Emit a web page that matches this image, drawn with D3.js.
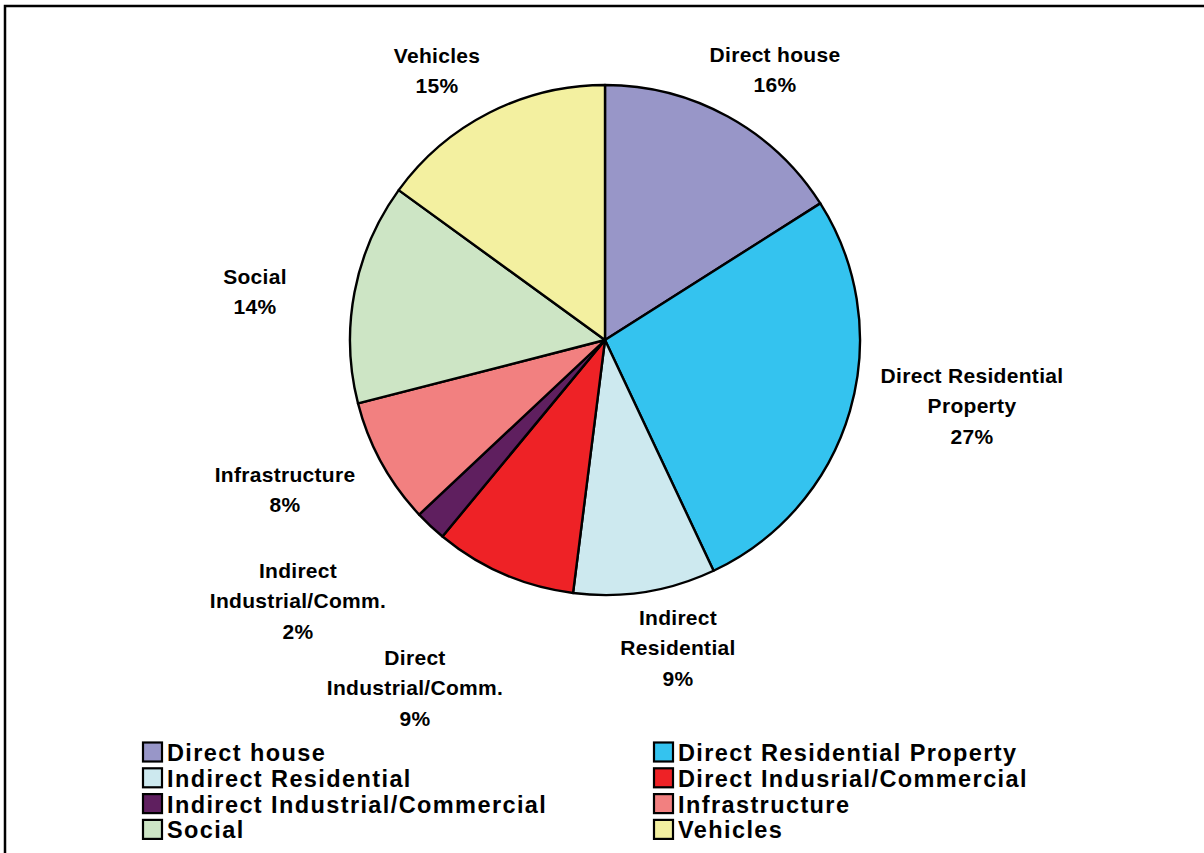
<!DOCTYPE html>
<html><head><meta charset="utf-8">
<script src="https://cdn.jsdelivr.net/npm/d3@7"></script>
<style>
html,body{margin:0;padding:0;background:#fff;}
svg{display:block;}
text{font-family:"Liberation Sans",Arial,sans-serif;font-weight:bold;fill:#000;}
</style></head>
<body>
<script>
// ---- data ----
const categories = ["Direct house","Direct Residential Property","Indirect Residential","Direct Indusrial/Commercial","Indirect Industrial/Commercial","Infrastructure","Social","Vehicles"];
const values = [16,27,9,9,2,8,14,15];
const pieLabels = [["Direct house"],["Direct Residential","Property"],["Indirect","Residential"],["Direct","Industrial/Comm."],["Indirect","Industrial/Comm."],["Infrastructure"],["Social"],["Vehicles"]];
const colors = ["#9896C8","#34C3EF","#CDE9EF","#EE2226","#5F1F5F","#F28080","#CDE5C5","#F3F0A0"];

// ---- layout ----
const W = 1204, H = 853;
const cx = 605, cy = 340, R = 255;
// label anchor offsets (first line centre) relative to pie centre
const labelOffsets = [[170,-286],[367,35],[73,277],[-190,317],[-307,230],[-320,134],[-350,-64],[-168,-285]];
const lineH = 30.5;

const svg = d3.select("body").append("svg").attr("width",W).attr("height",H);

// frame
svg.append("rect").attr("x",5).attr("y",6).attr("width",W+20).attr("height",H+20)
  .attr("fill","none").attr("stroke","#000").attr("stroke-width",2.5);

const pie = d3.pie().sort(null).value(d=>d);
const arcs = pie(values);
const arc = d3.arc().innerRadius(0).outerRadius(R);

const g = svg.append("g").attr("transform",`translate(${cx},${cy})`);
g.selectAll("path").data(arcs).join("path")
  .attr("d",arc)
  .attr("fill",(d,i)=>colors[i])
  .attr("stroke","#000").attr("stroke-width",2.4).attr("stroke-linejoin","round");

// labels
const fmt = d3.format(".0%");
const total = d3.sum(values);
const lg = g.append("g");
arcs.forEach((a,i)=>{
  const lines = pieLabels[i].concat([fmt(values[i]/total)]);
  const t = lg.append("text").attr("text-anchor","middle")
    .style("font-size","21px").style("letter-spacing","0.3px");
  lines.forEach((ln,k)=>{
    t.append("tspan").attr("x",labelOffsets[i][0]).attr("y",labelOffsets[i][1]+7.5+k*lineH).text(ln);
  });
});

// legend
const legendCols = [142, 653];
const legendY0 = 752, legendStep = 25.8;
const leg = svg.append("g");
categories.forEach((c,i)=>{
  const col = i%2, row = Math.floor(i/2);
  const x = legendCols[col], y = legendY0 + row*legendStep;
  leg.append("rect").attr("x",x+1).attr("y",y-9.5).attr("width",19).attr("height",19)
    .attr("fill",colors[i]).attr("stroke","#000").attr("stroke-width",2.2);
  leg.append("text").attr("x",x+25).attr("y",y+9)
    .style("font-size","23.5px").style("letter-spacing","1.4px").text(c);
});
</script>
</body></html>
